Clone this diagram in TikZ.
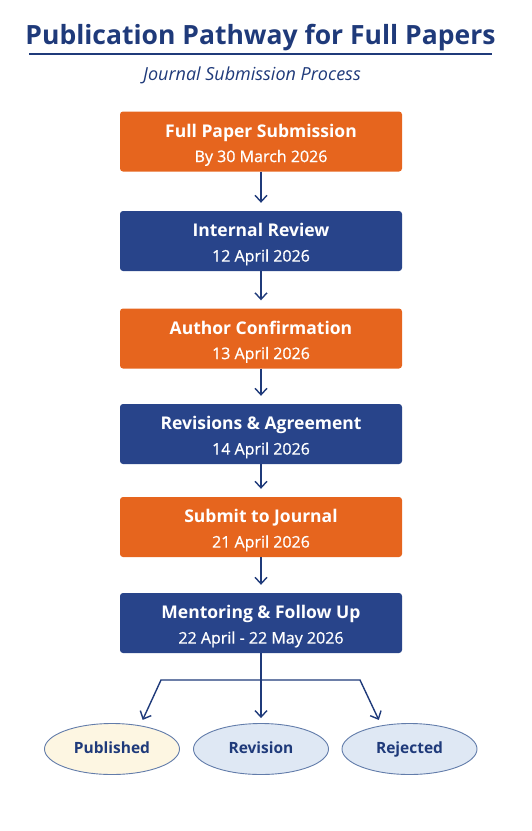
\documentclass[tikz,border=0pt]{standalone}
\usepackage{fontspec}
\setmainfont{Open Sans}
\usetikzlibrary{shapes.geometric,arrows.meta}

\definecolor{navy}{RGB}{31,58,122}
\definecolor{stageorange}{RGB}{230,101,30}
\definecolor{stageblue}{RGB}{40,68,138}
\definecolor{ovalline}{RGB}{98,124,170}
\definecolor{creamfill}{RGB}{253,246,226}
\definecolor{paleblue}{RGB}{223,232,244}

\newcommand{\datefont}{\fontsize{16}{25}\selectfont\addfontfeatures{FakeBold=0.8}}
\newcommand{\headline}[1]{\rule{0pt}{20pt}\textbf{#1}}

\begin{document}
\begin{tikzpicture}[x=1pt,y=-1pt,
	stage/.style={rectangle,rounded corners=3pt,minimum width=282pt,minimum height=60pt,inner sep=0pt,align=center,text=white,font=\fontsize{17.5}{25}\selectfont},
	orangebox/.style={stage,fill=stageorange},
	bluebox/.style={stage,fill=stageblue},
	outcome/.style={ellipse,draw=ovalline,line width=0.9pt,minimum width=135pt,minimum height=51pt,inner sep=0pt,text height=11pt,text depth=3pt,text=navy,font=\fontsize{15.5}{18}\selectfont\bfseries},
	flow/.style={-{Straight Barb[length=6.5pt,width=12pt]},line width=1.4pt,draw=navy}]
	
	\useasboundingbox (0,0) rectangle (532,831);
	
	\node[anchor=base,text=navy,font=\fontsize{26.5}{30}\selectfont\bfseries] (title) at (260.5,44) {Publication Pathway for Full Papers};
	\draw[navy,line width=1.5pt] (29,54) -- (492,54);
	\node[anchor=base,text=navy,font=\fontsize{18}{22}\selectfont\itshape] (subtitle) at (252,80) {Journal Submission Process};
	
	\node[orangebox] (submission) at (261,141.5) {\headline{Full Paper Submission}\\{\datefont By 30 March 2026}};
	\node[bluebox]   (review)     at (261,241)   {\headline{Internal Review}\\{\datefont 12 April 2026}};
	\node[orangebox] (confirm)    at (261,338.5) {\headline{Author Confirmation}\\{\datefont 13 April 2026}};
	\node[bluebox]   (agreement)  at (261,434)   {\headline{Revisions \& Agreement}\\{\datefont 14 April 2026}};
	\node[orangebox] (journal)    at (261,527)   {\headline{Submit to Journal}\\{\datefont 21 April 2026}};
	\node[bluebox]   (mentoring)  at (261,623)   {\headline{Mentoring \& Follow Up}\\{\datefont 22 April - 22 May 2026}};
	
	\node[outcome,fill=creamfill] (published) at (112,749)   {Published};
	\node[outcome,fill=paleblue]  (revision)  at (261,749)   {Revision};
	\node[outcome,fill=paleblue]  (rejected)  at (409.5,749) {Rejected};
	
	\path[flow,shorten >=8pt] (submission) edge (review);
	\path[flow,shorten >=8pt] (review) edge (confirm);
	\path[flow,shorten >=8pt] (confirm) edge (agreement);
	\path[flow,shorten >=8pt] (agreement) edge (journal);
	\path[flow,shorten >=8pt] (journal) edge (mentoring);
	\path[flow,shorten >=5pt] (mentoring) edge (revision);
	
	\coordinate (splitL) at (161,680);
	\coordinate (splitR) at (360,680);
	\draw[flow,{Straight Barb[length=6.5pt,width=12pt]}-{Straight Barb[length=6.5pt,width=12pt]},shorten <=6pt,shorten >=6pt,line join=miter] (published.40) -- (splitL) -- (splitR) -- (rejected.140);
	
\end{tikzpicture}
\end{document}
